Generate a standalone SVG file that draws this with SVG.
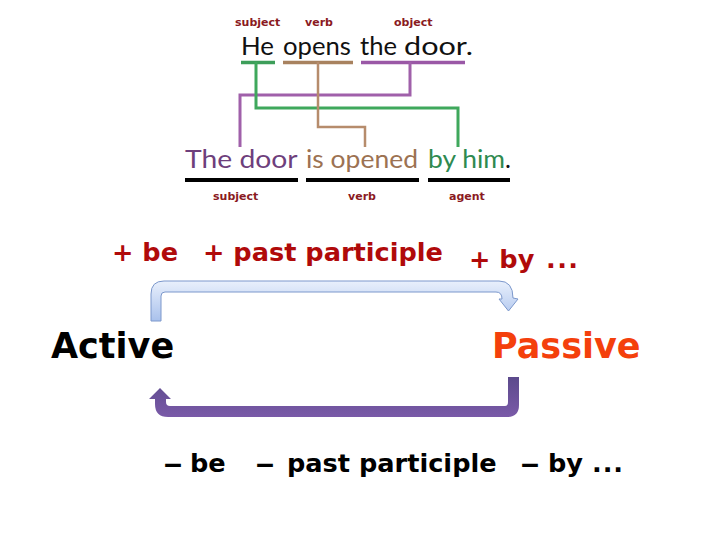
<svg xmlns="http://www.w3.org/2000/svg" width="720" height="540" viewBox="0 0 720 540">
<defs>
<linearGradient id="blueFill" x1="0" y1="0" x2="0" y2="1">
<stop offset="0" stop-color="#e9f0fc"/>
<stop offset="1" stop-color="#a9c1ec"/>
</linearGradient>
<linearGradient id="purpleFill" x1="0" y1="0" x2="0" y2="1">
<stop offset="0" stop-color="#5c4a8c"/>
<stop offset="1" stop-color="#7a5aa8"/>
</linearGradient>
</defs>
<style>
.lbl{font-family:"DejaVu Sans",Verdana,sans-serif;font-weight:bold;font-size:11px;fill:#8a1a22}
.sent{font-family:Lato,"Open Sans",sans-serif;font-size:25px}
.rule{font-family:"DejaVu Sans",Verdana,sans-serif;font-weight:bold;font-size:25.6px}
.big{font-family:"DejaVu Sans",Verdana,sans-serif;font-weight:bold;font-size:35px}
.ul{fill:none;stroke-linecap:butt}
</style>
<rect width="720" height="540" fill="#ffffff"/>

<g id="active-sentence">
<text class="lbl" x="235" y="26">subject</text>
<text class="lbl" x="305" y="26">verb</text>
<text class="lbl" x="394" y="26">object</text>
<text class="sent" y="55" fill="#111">
<tspan x="241" textLength="33" lengthAdjust="spacingAndGlyphs">He</tspan>
<tspan x="283" textLength="68" lengthAdjust="spacingAndGlyphs">opens</tspan>
<tspan x="360" textLength="37" lengthAdjust="spacingAndGlyphs">the</tspan>
<tspan x="404" textLength="69" lengthAdjust="spacingAndGlyphs">door.</tspan>
</text>
<line class="ul" x1="241" y1="62.5" x2="275" y2="62.5" stroke="#3d9e5a" stroke-width="3.5"/>
<line class="ul" x1="283" y1="62.5" x2="353" y2="62.5" stroke="#a8825f" stroke-width="3.5"/>
<line class="ul" x1="361" y1="62.5" x2="465" y2="62.5" stroke="#9a58a6" stroke-width="3.5"/>
</g>

<g id="passive-sentence">
<text class="sent" y="168">
<tspan x="185" fill="#6e3f7c" textLength="112" lengthAdjust="spacingAndGlyphs">The door</tspan>
<tspan x="306" fill="#9c7252" textLength="112" lengthAdjust="spacingAndGlyphs">is opened</tspan>
<tspan x="428" fill="#2e8a50" textLength="77" lengthAdjust="spacingAndGlyphs">by him</tspan><tspan fill="#111">.</tspan>
</text>
<line class="ul" x1="185" y1="180" x2="298" y2="180" stroke="#000" stroke-width="4"/>
<line class="ul" x1="306" y1="180" x2="419" y2="180" stroke="#000" stroke-width="4"/>
<line class="ul" x1="428" y1="180" x2="510" y2="180" stroke="#000" stroke-width="4"/>
<text class="lbl" x="213" y="200">subject</text>
<text class="lbl" x="348" y="200">verb</text>
<text class="lbl" x="449" y="200">agent</text>
</g>

<g id="plus-rule">
<text class="rule" fill="#b00a0a" y="261">
<tspan x="112">+ be</tspan>
<tspan x="203">+ past participle</tspan>
<tspan x="469" y="268">+ by</tspan>
<tspan x="546" y="268" textLength="32" lengthAdjust="spacing">...</tspan>
</text>
</g>

<g id="active">
<text class="big" x="51" y="358" fill="#000">Active</text>
</g>

<g id="passive">
<text class="big" x="492" y="358" fill="#f4400c">Passive</text>
</g>

<g id="minus-rule">
<text class="rule" fill="#000" y="472">
<tspan x="163" textLength="20" lengthAdjust="spacingAndGlyphs">–</tspan>
<tspan x="190">be</tspan>
<tspan x="255" textLength="20" lengthAdjust="spacingAndGlyphs">–</tspan>
<tspan x="287">past participle</tspan>
<tspan x="520" textLength="20" lengthAdjust="spacingAndGlyphs">–</tspan>
<tspan x="548">by</tspan>
<tspan x="592" textLength="31" lengthAdjust="spacing">...</tspan>
</text>
</g>

<g id="connectors">
<polyline points="410,62 410,95 240,95 240,147" fill="none" stroke="#a060aa" stroke-width="3"/>
<polyline points="256,62 256,108 458,108 458,147" fill="none" stroke="#3fa85c" stroke-width="3"/>
<polyline points="318,62 318,127 365,127 365,147" fill="none" stroke="#b68c6c" stroke-width="2.5"/>
<path d="M151,321 L151,294 Q151,281 164,281 L499,281 Q513,281 513,298 L518,299 L508.5,311 L499,299 L502,299 Q502,292 496,292 L165,292 Q161,292 161,296 L161,321 Z" fill="url(#blueFill)" stroke="#7c98cc" stroke-width="1"/>
<path d="M508,377 L519,377 L519,405 Q519,417 507,417 L168,417 Q155,417 155,404 L155,399 L149,399 L160,388 L171,399 L166,399 L166,402 Q166,406 170,406 L505,406 Q508,406 508,402 Z" fill="url(#purpleFill)"/>
</g>
</svg>
